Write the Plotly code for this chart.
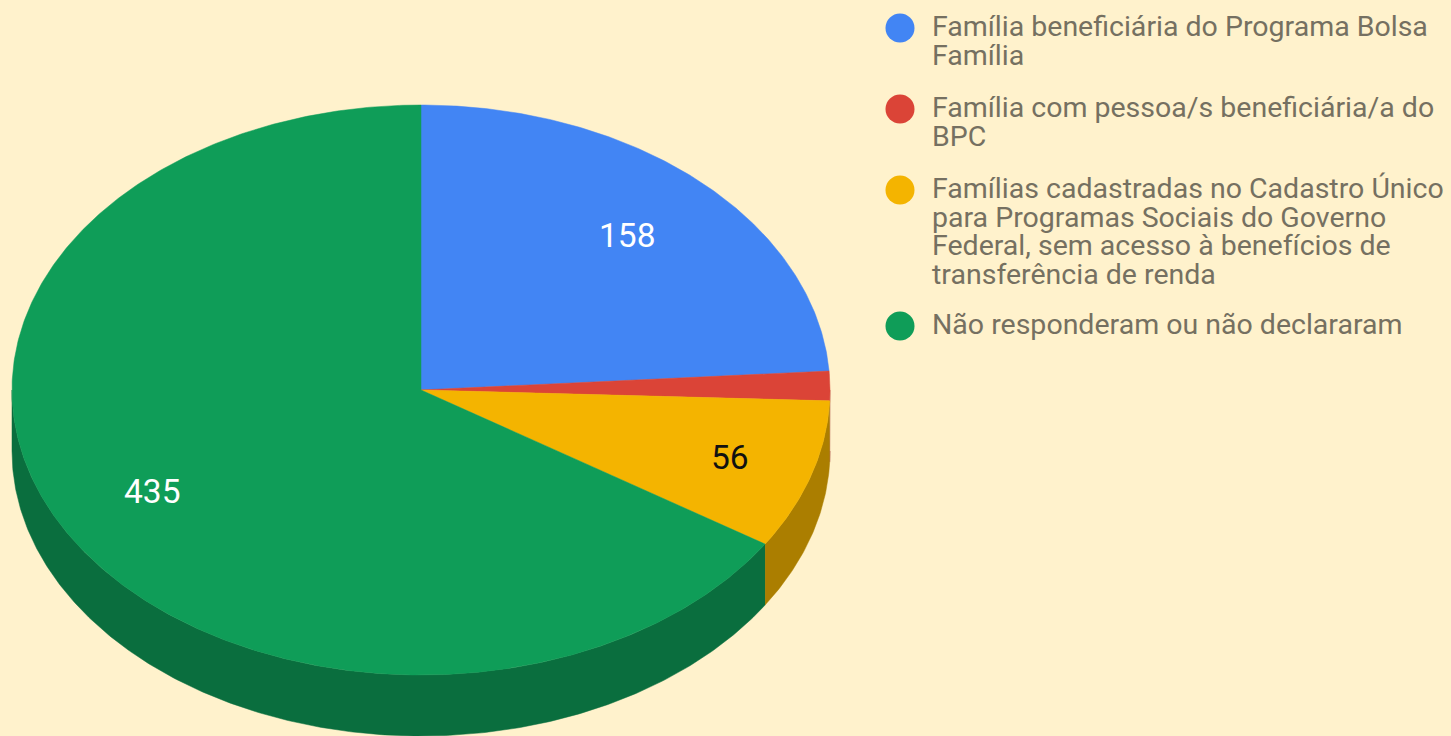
import numpy as np
import plotly.graph_objects as go

categories = [
    "Família beneficiária do Programa Bolsa Família",
    "Família com pessoa/s beneficiária/a do BPC",
    "Famílias cadastradas no Cadastro Único para Programas Sociais do Governo Federal, sem acesso à benefícios de transferência de renda",
    "Não responderam ou não declararam",
]
values = [158, 11, 56, 435]
value_labels = ["158", "", "56", "435"]
legend_lines = [
    ["Família beneficiária do Programa Bolsa", "Família"],
    ["Família com pessoa/s beneficiária/a do", "BPC"],
    [
        "Famílias cadastradas no Cadastro Único",
        "para Programas Sociais do Governo",
        "Federal, sem acesso à benefícios de",
        "transferência de renda",
    ],
    ["Não responderam ou não declararam"],
]
colors = ["#4285F4", "#DB4437", "#F4B400", "#0F9D58"]
side_colors = ["#2E5DAA", "#992F26", "#AB7E00", "#0A6E3E"]

BG = "#FFF2CC"
CX, CY, RX, RY, DEPTH = 421, 390, 409, 285, 61
LEGEND_X = 900
LEGEND_TEXT_X = 933
LEGEND_TOP = [26.5, 107.5, 188.5, 324.5]
LINE_H = 28.7
LABEL_POS = [(627, 235), None, (730, 457), (152, 491)]
LABEL_COLORS = ["white", "white", "#111111", "white"]


def rim(a0, a1, dy=0):
    # angles in degrees, clockwise from 12 o'clock
    t = np.radians(np.linspace(a0, a1, max(int(abs(a1 - a0) * 2), 2)))
    return CX + RX * np.sin(t), CY + dy - RY * np.cos(t)


fracs = np.cumsum([0] + values) / sum(values) * 360
fig = go.Figure()

# side wall first, only the front half of the disc shows
for i, name in enumerate(categories):
    a0, a1 = max(fracs[i], 90), min(fracs[i + 1], 270)
    if a1 <= a0:
        continue
    tx, ty = rim(a0, a1)
    bx, by = rim(a1, a0, DEPTH)
    fig.add_trace(go.Scatter(
        x=np.concatenate([tx, bx]), y=np.concatenate([ty, by]),
        mode="lines", fill="toself", fillcolor=side_colors[i],
        line=dict(width=0.5, color=side_colors[i]), hoverinfo="skip", showlegend=False,
    ))

# top face
for i, name in enumerate(categories):
    tx, ty = rim(fracs[i], fracs[i + 1])
    fig.add_trace(go.Scatter(
        x=np.concatenate([[CX], tx, [CX]]), y=np.concatenate([[CY], ty, [CY]]),
        mode="lines", fill="toself", fillcolor=colors[i],
        line=dict(width=0.5, color=colors[i]), name=name, hoverinfo="name", showlegend=False,
    ))

# legend dots
fig.add_trace(go.Scatter(
    x=[LEGEND_X] * len(categories), y=[t + 1.5 for t in LEGEND_TOP],
    mode="markers", marker=dict(size=29, color=colors), hoverinfo="skip", showlegend=False,
))

for lines, top in zip(legend_lines, LEGEND_TOP):
    for j, line in enumerate(lines):
        fig.add_annotation(
            x=LEGEND_TEXT_X, y=top + j * LINE_H, text=line, showarrow=False,
            xanchor="left", yanchor="middle", xshift=-3,
            font=dict(family="Roboto", size=28.5, color="#757061"),
        )

for label, pos, c in zip(value_labels, LABEL_POS, LABEL_COLORS):
    if pos:
        fig.add_annotation(
            x=pos[0], y=pos[1], text=label, showarrow=False,
            font=dict(family="Roboto", size=33.5, color=c),
        )

fig.update_layout(
    width=1451, height=736, margin=dict(l=0, r=0, t=0, b=0),
    paper_bgcolor=BG, plot_bgcolor=BG,
    xaxis=dict(range=[0, 1451], visible=False),
    yaxis=dict(range=[736, 0], visible=False),
)
# page has a default body margin, drop it so the figure fills the window
fig.write_html(
    "out.html",
    config={"displayModeBar": False},
    post_script="document.body.style.margin = '0'; document.body.style.overflow = 'hidden';",
)
